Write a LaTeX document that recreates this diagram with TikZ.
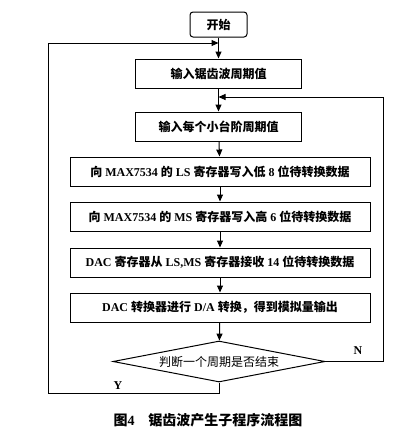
\documentclass[tikz,border=0pt]{standalone}
\usepackage{fontspec}
\setmainfont{Liberation Serif}
\newfontfamily\cjk{Noto Sans CJK SC}
\usetikzlibrary{shapes.geometric,arrows.meta}
\tikzset{
  box/.style={draw, line width=1pt, minimum height=29pt, inner sep=0pt, font=\bfseries\fontsize{12}{14}\selectfont},
  wbox/.style={box, minimum width=166pt},
  lbox/.style={box, minimum width=300pt},
  startbox/.style={box, rounded corners=3pt, minimum width=57pt, minimum height=25pt},
  decision/.style={draw, diamond, line width=1pt, aspect=5.17, minimum width=212pt, minimum height=41pt, inner sep=0pt, font=\fontsize{12}{14}\selectfont},
  flow/.style={line width=1pt, -{Triangle[length=7pt,width=6pt]}},
  lbl/.style={font=\bfseries\fontsize{12}{14}\selectfont},
}
\begin{document}
\begin{tikzpicture}[x=1pt,y=-1pt]
\useasboundingbox (0,0) rectangle (418,437);
\node[startbox] (start) at (218.5,24.5) {\cjk\bfseries 开始};
\node[wbox] (b1) at (218.5,73.5) {\cjk\bfseries 输入锯齿波周期值};
\node[wbox] (b2) at (218.5,126.5) {\cjk\bfseries 输入每个小台阶周期值};
\node[lbox] (b3) at (220,171.5) {{\cjk\bfseries 向} MAX7534 {\cjk\bfseries 的} LS {\cjk\bfseries 寄存器写入低} 8 {\cjk\bfseries 位待转换数据}};
\node[lbox] (b4) at (220,216.5) {{\cjk\bfseries 向} MAX7534 {\cjk\bfseries 的} MS {\cjk\bfseries 寄存器写入高} 6 {\cjk\bfseries 位待转换数据}};
\node[lbox] (b5) at (220,262.5) {DAC {\cjk\bfseries 寄存器从} LS,MS {\cjk\bfseries 寄存器接收} 14 {\cjk\bfseries 位待转换数据}};
\node[lbox] (b6) at (220,307.5) {DAC {\cjk\bfseries 转换器进行} D/A {\cjk\bfseries 转换，得到模拟量输出}};
\node[decision] (dec) at (219,361.5) {\cjk 判断一个周期是否结束};
\coordinate (j1) at (218.5,43);
\coordinate (j2) at (218.5,97);
\coordinate (yl) at (219,393);
\coordinate (yc) at (48,393);
\coordinate (yt) at (48,43);
\coordinate (nr) at (383,361.5);
\coordinate (nt) at (383,97);
\draw[flow] (start) -- (b1);
\draw[flow] (b1) -- (b2);
\draw[flow] (b2) -- (b3);
\draw[flow] (b3) -- (b4);
\draw[flow] (b4) -- (b5);
\draw[flow] (b5) -- (b6);
\draw[flow] (b6) -- (dec);
\draw[flow] (dec.south) -- (yl) -- (yc) -- (yt) -- (j1);
\draw[flow] (dec.east) -- (nr) -- (nt) -- (j2);
\node[lbl] (ylab) at (118,386) {Y};
\node[lbl] (nlab) at (358,351) {N};
\node[font=\bfseries\fontsize{14}{16}\selectfont] (cap) at (208,420) {{\cjk\bfseries 图}4\hspace{14pt}{\cjk\bfseries 锯齿波产生子程序流程图}};
\end{tikzpicture}
\end{document}
